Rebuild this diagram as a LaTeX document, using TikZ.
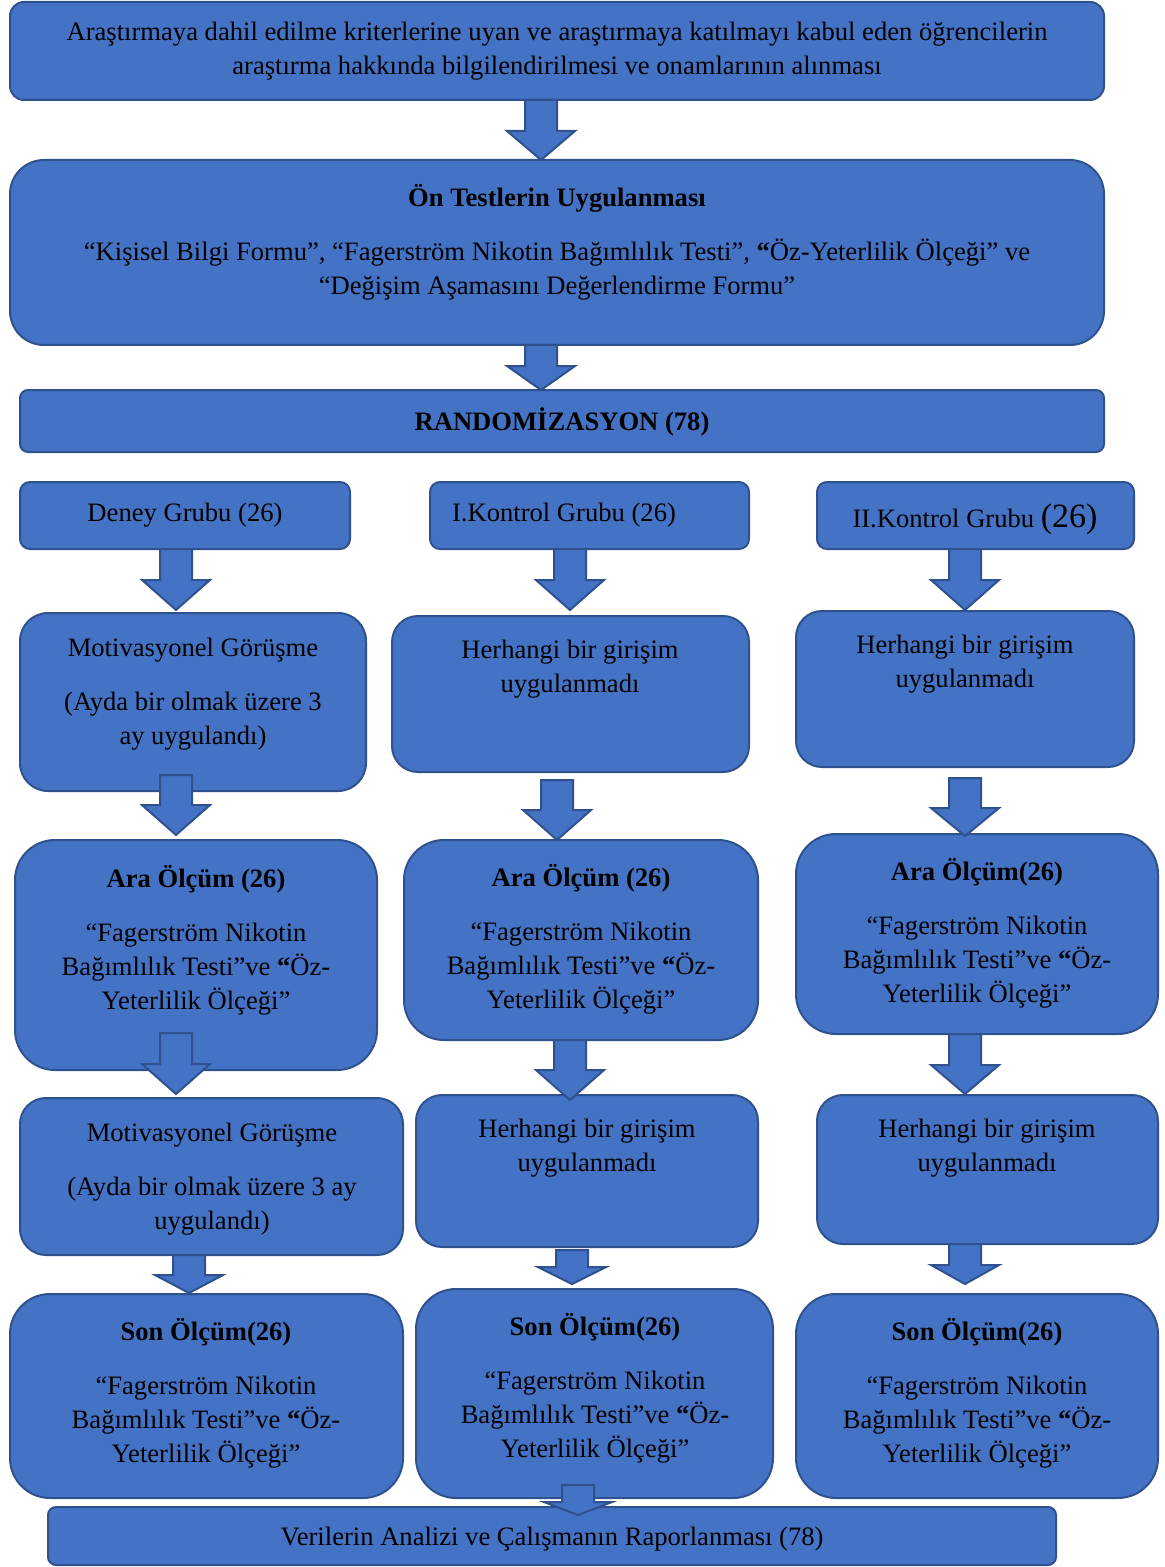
\documentclass[tikz,border=0pt]{standalone}
\usepackage{fontspec}
\setmainfont{Liberation Serif}
\usetikzlibrary{fit}
\definecolor{boxfill}{HTML}{4472C4}
\definecolor{boxline}{HTML}{2F528F}
\tikzset{
  box/.style={draw=boxline, fill=boxfill, line width=1pt, inner sep=0pt},
  barrow/.style={draw=boxline, fill=boxfill, line width=1pt},
  txt/.style={align=center, inner sep=0pt, text=black, font=\fontsize{13.3}{17}\selectfont},
}
\newcommand\boxat[6]{\node[box, rounded corners=#6, fit={(#2,#3) (#4,#5)}] (#1) {};}
\newcommand\blockarrow[4]{\draw[barrow] ({#1-16},#2) -- ({#1+16},#2) -- ({#1+16},#3) -- ({#1+34},#3) -- (#1,#4) -- ({#1-34},#3) -- ({#1-16},#3) -- cycle;}
\begin{document}
\begin{tikzpicture}[x=0.5pt,y=-0.5pt]
\useasboundingbox (0,0) rectangle (1164,1567);
% boxes
\boxat{b1}{10}{2}{1104}{100}{7pt}
\boxat{b2}{10}{160}{1104}{345}{17pt}
\boxat{b3}{20}{390}{1104}{452}{4pt}
\boxat{g1}{20}{482}{350}{549}{5pt}
\boxat{g2}{430}{482}{749}{549}{5pt}
\boxat{g3}{817}{482}{1134}{549}{5pt}
\boxat{m1}{20}{613}{366}{791}{14pt}
\boxat{h2}{392}{616}{749}{772}{13pt}
\boxat{h3}{796}{611}{1134}{767}{13pt}
\boxat{a1}{15}{840}{377}{1070}{20pt}
\boxat{a2}{404}{840}{758}{1040}{20pt}
\boxat{a3}{796}{834}{1158}{1034}{20pt}
\boxat{n1}{20}{1098}{403}{1255}{13pt}
\boxat{k2}{416}{1095}{758}{1247}{13pt}
\boxat{k3}{817}{1095}{1158}{1244}{13pt}
\boxat{s1}{10}{1294}{403}{1498}{20pt}
\boxat{s2}{416}{1289}{773}{1498}{20pt}
\boxat{s3}{796}{1294}{1158}{1498}{20pt}
\boxat{v}{48}{1507}{1056}{1565}{4pt}
% block arrows
\blockarrow{541}{100}{131}{160}
\blockarrow{541}{345}{366}{390}
\blockarrow{176}{549}{580}{610}
\blockarrow{570}{549}{580}{610}
\blockarrow{965}{549}{580}{610}
\blockarrow{176}{775}{805}{835}
\blockarrow{557}{780}{810}{840}
\blockarrow{965}{778}{808}{836}
\blockarrow{176}{1033}{1064}{1094}
\blockarrow{570}{1040}{1070}{1100}
\blockarrow{965}{1034}{1065}{1094}
\blockarrow{189}{1255}{1275}{1293}
\blockarrow{572}{1250}{1267}{1284}
\blockarrow{965}{1244}{1265}{1284}
\blockarrow{578}{1485}{1502}{1515}
% texts
\node[txt] (t1) at (557,51) {Araştırmaya dahil edilme kriterlerine uyan ve araştırmaya katılmayı kabul eden öğrencilerin\\araştırma hakkında bilgilendirilmesi ve onamlarının alınması};
\node[txt] (t2) at (557,242) {\textbf{Ön Testlerin Uygulanması}\\[10pt]“Kişisel Bilgi Formu”, “Fagerström Nikotin Bağımlılık Testi”, \textbf{“}Öz-Yeterlilik Ölçeği” ve\\“Değişim Aşamasını Değerlendirme Formu”};
\node[txt] (t3) at (562,422) {\textbf{RANDOMİZASYON (78)}};
\node[txt] (tg1) at (185,515) {Deney Grubu (26)};
\node[txt] (tg2) at (564,515) {I.Kontrol Grubu (26)};
\node[txt] (tg3) at (975,519) {II.Kontrol Grubu {\fontsize{17}{17}\selectfont(26)}};
\node[txt] (tm1) at (193,694) {Motivasyonel Görüşme\\[10pt](Ayda bir olmak üzere 3\\ay uygulandı)};
\node[txt] (th2) at (570,669) {Herhangi bir girişim\\uygulanmadı};
\node[txt] (th3) at (965,664) {Herhangi bir girişim\\uygulanmadı};
\node[txt] (ta1) at (196,940) {\textbf{Ara Ölçüm (26)}\\[10pt]“Fagerström Nikotin\\Bağımlılık Testi”ve \textbf{“}Öz-\\Yeterlilik Ölçeği”};
\node[txt] (ta2) at (581,939) {\textbf{Ara Ölçüm (26)}\\[10pt]“Fagerström Nikotin\\Bağımlılık Testi”ve \textbf{“}Öz-\\Yeterlilik Ölçeği”};
\node[txt] (ta3) at (977,933) {\textbf{Ara Ölçüm(26)}\\[10pt]“Fagerström Nikotin\\Bağımlılık Testi”ve \textbf{“}Öz-\\Yeterlilik Ölçeği”};
\node[txt] (tn1) at (212,1179) {Motivasyonel Görüşme\\[10pt](Ayda bir olmak üzere 3 ay\\uygulandı)};
\node[txt] (tk2) at (587,1148) {Herhangi bir girişim\\uygulanmadı};
\node[txt] (tk3) at (987,1148) {Herhangi bir girişim\\uygulanmadı};
\node[txt] (ts1) at (206,1393) {\textbf{Son Ölçüm(26)}\\[10pt]“Fagerström Nikotin\\Bağımlılık Testi”ve \textbf{“}Öz-\\Yeterlilik Ölçeği”};
\node[txt] (ts2) at (595,1388) {\textbf{Son Ölçüm(26)}\\[10pt]“Fagerström Nikotin\\Bağımlılık Testi”ve \textbf{“}Öz-\\Yeterlilik Ölçeği”};
\node[txt] (ts3) at (977,1393) {\textbf{Son Ölçüm(26)}\\[10pt]“Fagerström Nikotin\\Bağımlılık Testi”ve \textbf{“}Öz-\\Yeterlilik Ölçeği”};
\node[txt] (tv) at (552,1539) {Verilerin Analizi ve Çalışmanın Raporlanması (78)};
\end{tikzpicture}
\end{document}
